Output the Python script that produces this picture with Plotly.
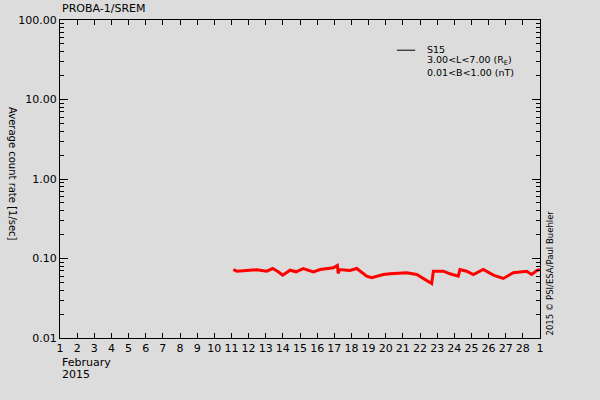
import plotly.graph_objects as go

# Data (day of February 2015 as fractional day, average count rate 1/sec)
days = [11.11, 11.31, 11.89, 12.47, 13.06, 13.41, 13.73, 13.99, 14.42, 14.77,
        15.19, 15.78, 16.17, 16.56, 16.94, 17.18, 17.23, 17.29, 17.92, 18.31,
        18.89, 19.18, 19.86, 20.25, 20.44, 21.22, 21.81, 22.10, 22.68, 22.78,
        23.36, 23.75, 24.23, 24.33, 24.72, 25.11, 25.69, 26.28, 26.86, 27.44,
        28.22, 28.51, 28.81, 29.0]
rates = [0.0727, 0.0692, 0.0706, 0.0721, 0.0692, 0.0748, 0.0680, 0.0617, 0.0712, 0.0680,
         0.0748, 0.0680, 0.0727, 0.0748, 0.0763, 0.0817, 0.0648, 0.0727, 0.0706, 0.0748,
         0.0599, 0.0572, 0.0629, 0.0642, 0.0648, 0.0661, 0.0629, 0.0572, 0.0485, 0.0692,
         0.0692, 0.0642, 0.0599, 0.0727, 0.0692, 0.0629, 0.0727, 0.0617, 0.0561, 0.0661,
         0.0692, 0.0629, 0.0706, 0.0727]

x_tickvals = list(range(1, 30))
x_ticktext = [str(d) for d in range(1, 29)] + ["1"]
y_tickvals = [0.01, 0.1, 1, 10, 100]
y_ticktext = ["0.01", "0.10", "1.00", "10.00", "100.00"]
y_minor = [m * d for d in [0.01, 0.1, 1, 10] for m in range(2, 10)]
legend_lines = ["S15", "3.00&lt;L&lt;7.00 (R<sub>E</sub>)", "0.01&lt;B&lt;1.00 (nT)"]

FONT = "DejaVu Sans"
BG = "#dcdcdc"

fig = go.Figure()
fig.add_trace(go.Scatter(x=days, y=rates, mode="lines",
                         line=dict(color="#ff0000", width=3), showlegend=False))

fig.update_layout(
    width=600, height=400,
    margin=dict(l=60, r=60, t=20, b=62, autoexpand=False),
    paper_bgcolor=BG, plot_bgcolor=BG,
    font=dict(family=FONT, size=11, color="black"),
    showlegend=False,
)
fig.update_xaxes(range=[1, 29], tickvals=x_tickvals, ticktext=x_ticktext,
                 ticks="inside", ticklen=5, tickcolor="black", showgrid=False,
                 showline=True, linecolor="black", linewidth=1, mirror="allticks",
                 zeroline=False, tickfont=dict(size=11), automargin=False)
fig.update_yaxes(type="log", range=[-2, 2], tickvals=y_tickvals, ticktext=y_ticktext,
                 ticks="inside", ticklen=8, tickcolor="black", showgrid=False,
                 showline=True, linecolor="black", linewidth=1, mirror="allticks",
                 zeroline=False, tickfont=dict(size=11), automargin=False,
                 minor=dict(ticks="inside", ticklen=4, tickcolor="black",
                            tickvals=y_minor, showgrid=False))

ann = [
    dict(text="PROBA-1/SREM", x=0, y=1.0, xref="paper", yref="paper", xanchor="left",
         yanchor="bottom", yshift=3, showarrow=False, font=dict(size=11)),
    dict(text="February", x=0, y=0, xref="paper", yref="paper", xanchor="left",
         yanchor="middle", yshift=-24, showarrow=False, font=dict(size=11)),
    dict(text="2015", x=0, y=0, xref="paper", yref="paper", xanchor="left",
         yanchor="middle", yshift=-36, showarrow=False, font=dict(size=11)),
    dict(text="Average count rate [1/sec]", x=-0.1, y=0.5, xref="paper", yref="paper",
         xanchor="center", yanchor="middle", xshift=1, yshift=5, showarrow=False,
         textangle=90, font=dict(size=10)),
    dict(text="2015 © PSI/ESA/Paul Buehler", x=1, y=0, xref="paper", yref="paper",
         xanchor="left", yanchor="bottom", xshift=2, showarrow=False, textangle=-90,
         font=dict(size=8.5)),
]
for i, t in enumerate(legend_lines):
    ann.append(dict(text=t, x=0.76, y=0.905, xref="paper", yref="paper", xanchor="left",
                    yanchor="middle", yshift=[1, -10, -22][i], showarrow=False,
                    font=dict(size=9.5)))
fig.update_layout(annotations=ann)
fig.add_shape(type="line", xref="paper", yref="paper", x0=0.702, x1=0.74, y0=0.905, y1=0.905,
              line=dict(color="black", width=1))

fig.write_html("out.html", config={"displayModeBar": False},
               post_script="document.body.style.margin='0';document.body.style.padding='0';")
